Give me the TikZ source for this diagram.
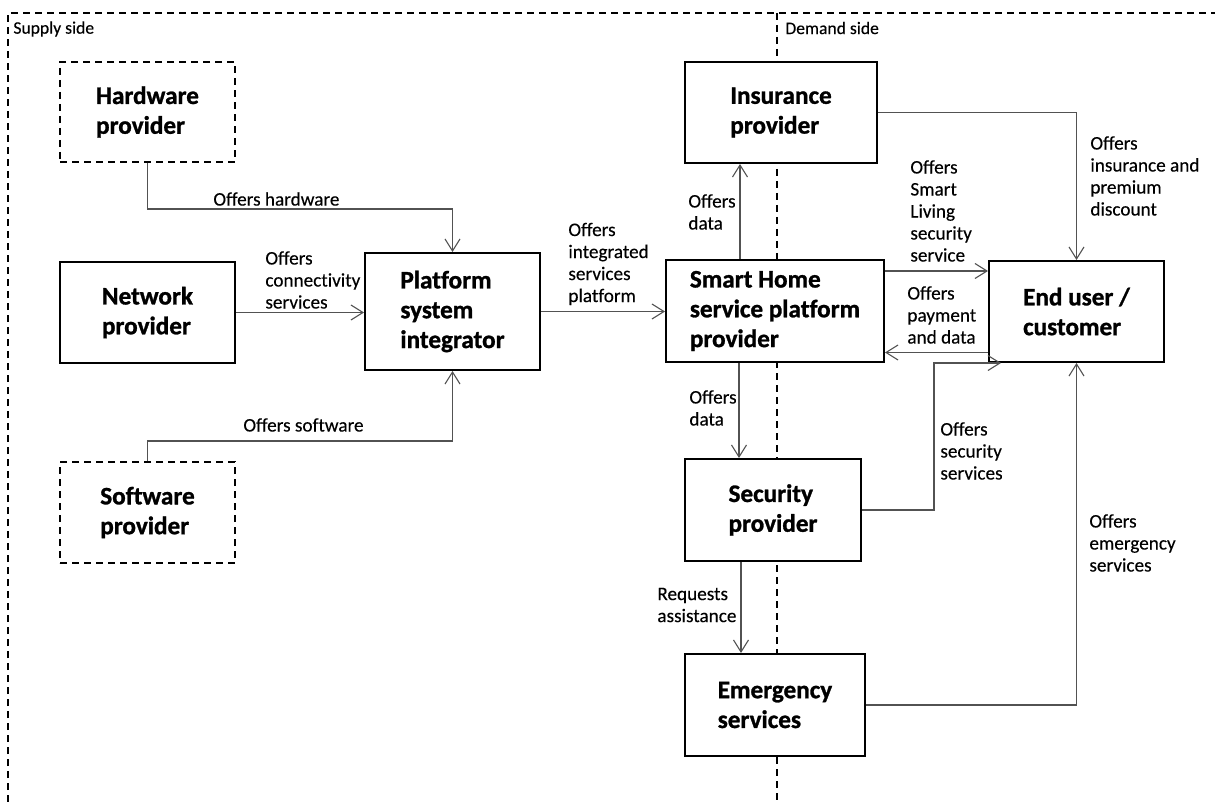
\documentclass[tikz,border=0pt]{standalone}
\usepackage{fontspec}
\setmainfont{Carlito}[Ligatures=NoCommon]
\usetikzlibrary{arrows.meta,calc}

\tikzset{
  actor/.style={draw=black, line width=1pt, fill=white, inner sep=0pt,
    align=left, font=\fontsize{12.6}{14.9}\selectfont\bfseries\addfontfeatures{FakeBold=1.1}},
  optactor/.style={actor, dashed, dash pattern=on 3.5pt off 2.5pt},
  conn/.style={draw=black!68, line width=0.55pt,
    -{Straight Barb[length=6pt,width=7.5pt,line width=0.55pt]}},
  lbl/.style={anchor=west, align=left, inner sep=0pt,
    font=\fontsize{9.6}{11}\selectfont\addfontfeatures{FakeBold=0.25}},
  side/.style={anchor=west, inner sep=0pt, font=\fontsize{8.8}{10}\selectfont\addfontfeatures{FakeBold=0.25}},
  frame/.style={line width=0.9pt, dash pattern=on 3.5pt off 2.5pt}
}

\begin{document}
\begin{tikzpicture}[x=0.5pt, y=-0.5pt]
  \useasboundingbox (0,0) rectangle (1215,802);

  % supply / demand frame
  \draw[frame] (8,802) -- (8,13) -- (1215,13);
  \draw[frame] (777,13) -- (777,802);
  \node[side] (supply) at (13,29) {Supply side};
  \node[side] (demand) at (785,28) {Demand side};

  % supply side actors
  \node[optactor, minimum width=87.5pt, minimum height=50pt] (hw) at (147.5,112) {Hardware\\provider};
  \node[actor, minimum width=87.5pt, minimum height=50.5pt] (net) at (147.5,312.5) {Network\\provider};
  \node[optactor, minimum width=87.5pt, minimum height=50.5pt] (sw) at (147.5,512.5) {Software\\provider};
  \node[actor, minimum width=87.5pt, minimum height=58.5pt] (psi) at (452.5,311.5) {Platform\\system\\integrator};

  % demand side actors
  \node[actor, minimum width=96pt, minimum height=50.5pt] (ins) at (781,112.5) {Insurance\\provider};
  \node[actor, minimum width=109pt, minimum height=51pt] (sh) at (775,311) {Smart Home\\service platform\\provider};
  \node[actor, minimum width=87.5pt, minimum height=50.5pt] (eu) at (1076.5,311.5) {End user /\\customer};
  \node[actor, minimum width=88pt, minimum height=51pt] (sec) at (773,510) {Security\\provider};
  \node[actor, minimum width=90pt, minimum height=51pt] (em) at (775,705) {Emergency\\services};

  % supply side flows
  \draw[conn] (hw.south) -- ++(0,46) -| (psi.north);
  \draw[conn] (net.east) -- (net.east -| psi.west);
  \draw[conn] (sw.north) -- ++(0,-20) -| (psi.south);
  \draw[conn] (psi.east) -- (psi.east -| sh.west);

  % demand side flows
  \draw[conn] ([xshift=-17.5pt]sh.north) -- ([xshift=-17.5pt]sh.north |- ins.south);
  \draw[conn] (ins.east) -| (eu.north);
  \draw[conn] ([yshift=20pt]sh.east) -- ([yshift=20pt]sh.east -| eu.west);
  \draw[conn] ([yshift=-20.5pt]eu.west) -- ([yshift=-20.5pt]eu.west -| sh.east);
  \draw[conn] ([xshift=-18pt]sh.south) -- ([xshift=-18pt]sh.south |- sec.north);
  \draw[conn] (sec.east) -- ++(72,0) |- ([xshift=6.5pt]eu.south west);
  \draw[conn] ([xshift=-16pt]sec.south) -- ([xshift=-16pt]sec.south |- em.north);
  \draw[conn] (em.east) -| (eu.south);

  % flow labels
  \node[lbl] (l-hw) at (213,199) {Offers hardware};
  \node[lbl] (l-net) at (265,280) {Offers\\connectivity\\services};
  \node[lbl] (l-sw) at (243,425) {Offers software};
  \node[lbl] (l-psi) at (568,264) {Offers\\integrated\\services\\platform};
  \node[lbl] (l-ins) at (688,212) {Offers\\data};
  \node[lbl] (l-prem) at (1090,176) {Offers\\insurance and\\premium\\discount};
  \node[lbl] (l-live) at (910,211) {Offers\\Smart\\Living\\security\\service};
  \node[lbl] (l-pay) at (907,315) {Offers\\payment\\and data};
  \node[lbl] (l-secsvc) at (940,451) {Offers\\security\\services};
  \node[lbl] (l-data) at (689,408) {Offers\\data};
  \node[lbl] (l-req) at (657,605) {Requests\\assistance};
  \node[lbl] (l-em) at (1089,543) {Offers\\emergency\\services};
\end{tikzpicture}
\end{document}
